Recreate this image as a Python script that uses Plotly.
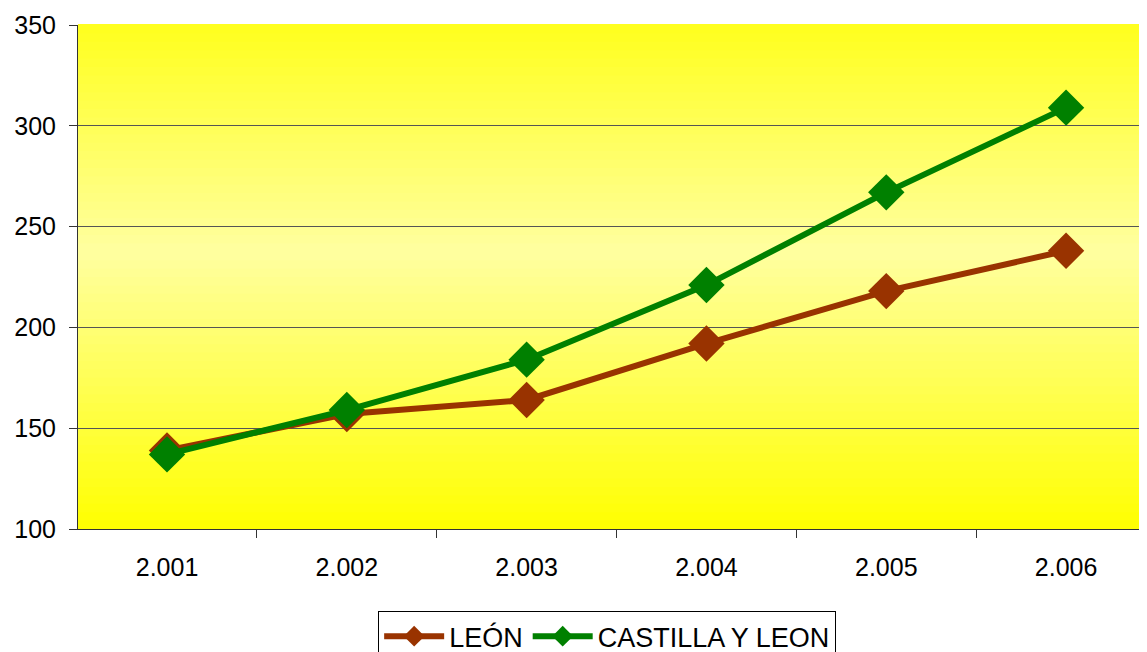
import plotly.graph_objects as go

anios = ["2.001", "2.002", "2.003", "2.004", "2.005", "2.006"]
leon = [139, 157, 164, 192, 218, 238]
castilla = [137, 159, 184, 221, 267, 309]

fig = go.Figure()

fig.add_trace(go.Scatter(
    x=anios, y=leon, name="LEÓN", mode="lines+markers",
    line=dict(color="#993300", width=6),
    marker=dict(symbol="diamond", size=28, color="#993300")
))
fig.add_trace(go.Scatter(
    x=anios, y=castilla, name="CASTILLA Y LEON", mode="lines+markers",
    line=dict(color="#008000", width=6),
    marker=dict(symbol="diamond", size=28, color="#008000")
))

# fondo degradado amarillo del area de trazado (amarillo - claro - amarillo)
pasos = 60
for i in range(pasos):
    t = (i + 0.5) / pasos
    d = abs(t - 0.55) / 0.55
    d = min(d, 1.0)
    b = int(round(160 * (1 - d)))
    fig.add_shape(type="rect", xref="x domain", yref="y domain",
                  x0=0, x1=1, y0=i / pasos, y1=(i + 1) / pasos + 0.002,
                  fillcolor=f"rgb(255,255,{b})", line=dict(width=0), layer="below")

# la pagina tiene 8px de margen en el body; la leyenda no debe agrandar el margen
fig.update_layout(
    width=1139, height=644,
    plot_bgcolor="#FFFF80", paper_bgcolor="white",
    margin=dict(l=70, r=0, t=17, b=123, autoexpand=False),
    font=dict(family="Liberation Sans, Arial", size=25, color="black"),
    showlegend=True,
    legend=dict(orientation="h", x=0.495, xanchor="center", y=-0.163, yanchor="top",
                bordercolor="black", borderwidth=1, bgcolor="white",
                font=dict(size=27), itemwidth=60),
)
fig.update_xaxes(
    range=[-0.495, 5.45], showgrid=False, showline=True, linecolor="#333333", linewidth=1,
    ticks="outside", tickson="boundaries", ticklen=8, tickcolor="#333333",
    ticklabelstandoff=16, zeroline=False
)
fig.update_yaxes(
    range=[100, 350], dtick=50, showgrid=True, gridcolor="#555555", gridwidth=1,
    showline=True, linecolor="#333333", linewidth=1,
    ticks="outside", ticklen=8, tickcolor="#333333", zeroline=False,
    ticklabelstandoff=8
)

fig.write_html("out.html")
